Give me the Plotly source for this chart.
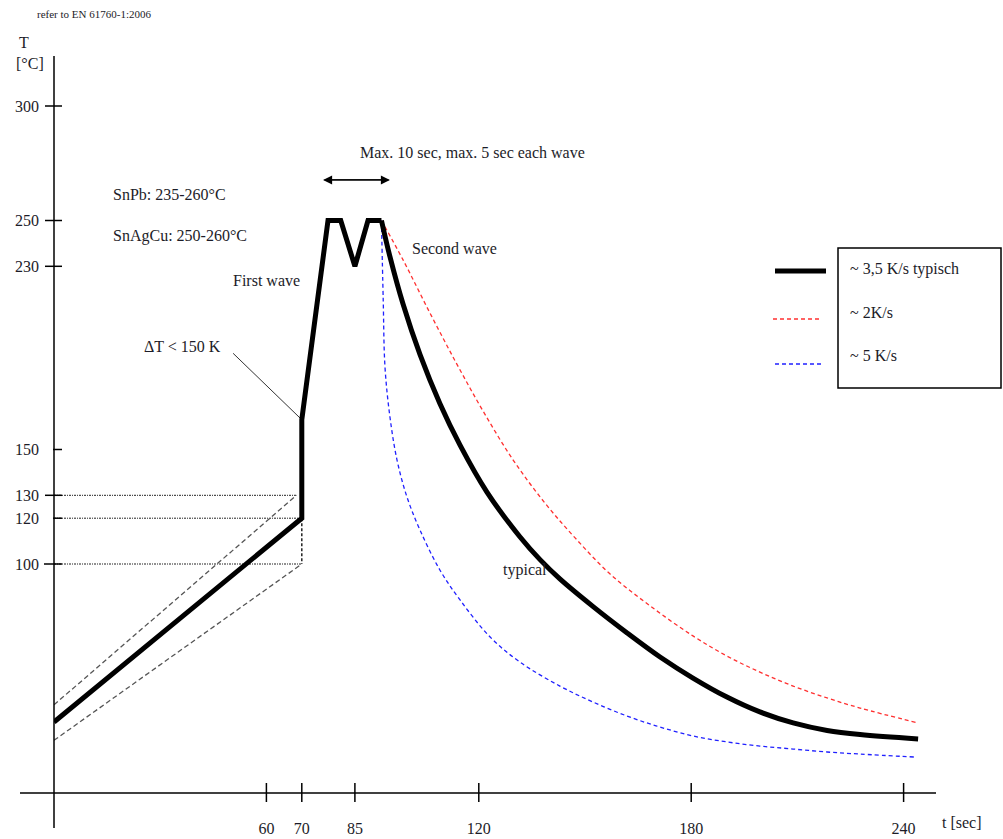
import plotly.graph_objects as go

# ---------------- data ----------------
x_tick_vals = [60, 70, 85, 120, 180, 240]
y_tick_vals = [100, 120, 130, 150, 230, 250, 300]

# typical profile (~3.5 K/s): preheat + double wave
rise_t = [0, 70, 70, 73.7, 77.4, 81, 85, 88.7, 92.5]
rise_T = [31, 120, 163, 207, 250, 250, 230, 250, 250]
# typical cooling
main_t = [92.5, 94.9, 98.6, 103.4, 109.0, 114.7, 122.3, 131.6, 137.3, 142.9, 152.3,
          161.9, 171.2, 180.5, 190.1, 199.4, 208.8, 218.4, 227.7, 244.1]
main_T = [250, 234.2, 213.5, 191.4, 170.1, 151.9, 131.4, 111.9, 101.9, 93.5, 81.4,
          69.9, 59.4, 50.2, 41.9, 35.4, 30.6, 27.3, 25.5, 23.6]

# ~2 K/s cooling
slow_t = [92.5, 98.6, 106.2, 113.8, 121.2, 129.7, 138.7, 147.2, 157.1, 168.4,
          180.5, 190.1, 199.4, 208.8, 218.4, 227.7, 244.1]
slow_T = [250, 232.8, 209.6, 187.3, 166.8, 145.4, 126.6, 111.4, 95.6, 81.7,
          68.6, 59.8, 52.8, 46.7, 41.5, 37.1, 30.6]

# ~5 K/s cooling
fast_t = [92.5, 93, 93.5, 94.9, 96.9, 99.7, 103.4, 109.0, 114.7, 123.2, 131.6,
          142.9, 152.3, 161.9, 171.2, 180.5, 190.1, 199.4, 208.8, 218.4, 227.7, 243.2]
fast_T = [250, 215.3, 186.0, 164.2, 145.4, 129.3, 114.8, 97.4, 84.3, 68.1, 57.2,
          46.7, 39.7, 33.6, 28.8, 24.9, 22.3, 20.5, 19.2, 17.9, 17.0, 15.7]

# preheat tolerance band
band_hi_t = [0, 68.5]
band_hi_T = [38.5, 130]
band_lo_t = [0, 70]
band_lo_T = [23, 100]

# reference levels at end of preheat
ref130_t, ref130_T = [0, 68.5], [130, 130]
ref120_t, ref120_T = [0, 70], [120, 120]
ref100_t, ref100_T = [0, 70], [100, 100]
refv_t, refv_T = [70, 70], [120, 100]

# delta-T pointer
dt_t, dt_T = [50.6, 70], [192, 163]

# ---------------- layout geometry ----------------
W_FIG, H_FIG = 1003, 839
L, R, T_, B = 54, 67, 56, 46
PW = W_FIG - L - R
PH = H_FIG - T_ - B
X_PX = 3.54   # px per second
Y_PX = 2.29   # px per degC


def px(x):
    return (x - L) / PW


def py(y):
    return (H_FIG - B - y) / PH


FONT = "Liberation Serif"
TXT = "#1c1c28"

fig = go.Figure()


def line(x, y, color, width, dash="solid", shape="linear"):
    fig.add_trace(go.Scatter(x=x, y=y, mode="lines",
                             line=dict(color=color, width=width, dash=dash, shape=shape,
                                       smoothing=1),
                             showlegend=False, hoverinfo="skip"))


dot = "2px,1px,1px,1px"
line(ref130_t, ref130_T, "#222", 1, dot)
line(ref120_t, ref120_T, "#222", 1, dot)
line(ref100_t, ref100_T, "#222", 1, dot)
line(refv_t, refv_T, "#222", 1.5, "3px,2px")
line(band_hi_t, band_hi_T, "#555", 1.3, "5px,3px")
line(band_lo_t, band_lo_T, "#555", 1.3, "5px,3px")
line(dt_t, dt_T, "#333", 1)
line(slow_t, slow_T, "#ff3030", 1.3, "4px,3px", "spline")
line(fast_t, fast_T, "#2020ff", 1.3, "4px,3px", "spline")
line(rise_t, rise_T, "black", 5)
line(main_t, main_T, "black", 5, shape="spline")

shapes = []
# axes lines (extend past origin)
shapes.append(dict(type="line", xref="paper", yref="paper", x0=px(20), x1=px(936),
                   y0=0, y1=0, line=dict(color="black", width=1.5)))
shapes.append(dict(type="line", xref="paper", yref="paper", x0=0, x1=0,
                   y0=py(828), y1=py(56), line=dict(color="black", width=1.5)))
# crossing x ticks
for v in x_tick_vals:
    shapes.append(dict(type="line", xref="x", yref="paper", ysizemode="pixel",
                       yanchor=0, x0=v, x1=v, y0=-9, y1=10,
                       line=dict(color="black", width=1.5)))
# crossing y ticks
left_len = {100: 10, 120: 1, 130: 9, 150: 1, 230: 9, 250: 9, 300: 9}
for v in y_tick_vals:
    shapes.append(dict(type="line", xref="paper", yref="y", xsizemode="pixel",
                       xanchor=0, y0=v, y1=v, x0=-left_len[v], x1=8,
                       line=dict(color="black", width=1.5)))
# legend box and samples
shapes.append(dict(type="rect", xref="paper", yref="paper", x0=px(838), x1=px(1001),
                   y0=py(388), y1=py(248), line=dict(color="black", width=1.5)))
shapes.append(dict(type="line", xref="paper", yref="paper", x0=px(775), x1=px(826),
                   y0=py(271), y1=py(271), line=dict(color="black", width=5)))
shapes.append(dict(type="line", xref="paper", yref="paper", x0=px(773), x1=px(822),
                   y0=py(319), y1=py(319), line=dict(color="#ff3030", width=1.3, dash="4px,3px")))
shapes.append(dict(type="line", xref="paper", yref="paper", x0=px(775), x1=px(823),
                   y0=py(364), y1=py(364), line=dict(color="#2020ff", width=1.3, dash="4px,3px")))

annotations = []


def text(s, x, y, size=16, anchor="left"):
    annotations.append(dict(text=s, xref="paper", yref="paper", x=px(x), y=py(y),
                            xanchor=anchor, yanchor="middle", showarrow=False,
                            font=dict(family=FONT, size=size, color=TXT)))


text("refer to EN 61760-1:2006", 35, 14, 11)
text("T", 17, 42, 16)
text("[°C]", 14, 64, 16)
text("t [sec]", 940, 822, 16)
text("Max. 10 sec, max. 5 sec each wave", 358, 153)
text("SnPb: 235-260°C", 111, 194)
text("SnAgCu: 250-260°C", 111, 236)
text("First wave", 231, 280)
text("Second wave", 410, 248)
text("ΔT < 150 K", 142, 346)
text("typical", 501, 570)
text("~ 3,5 K/s typisch", 848, 269)
text("~ 2K/s", 848, 312)
text("~ 5 K/s", 848, 355)

# double arrow (two overlapping single-headed arrows)
arrow_y = 267.7
arrow_l, arrow_r = 76.0, 94.9
for end, tail in ((arrow_l, arrow_r), (arrow_r, arrow_l)):
    annotations.append(dict(x=end, y=arrow_y, ax=tail, ay=arrow_y, xref="x", yref="y",
                            axref="x", ayref="y", text="", showarrow=True,
                            arrowhead=2, arrowsize=1.4, arrowwidth=1.3,
                            arrowcolor="black"))

fig.update_layout(
    width=W_FIG, height=H_FIG, autosize=False,
    margin=dict(l=L, r=R, t=T_, b=B, pad=0, autoexpand=False),
    paper_bgcolor="white", plot_bgcolor="white",
    shapes=shapes, annotations=annotations,
    hovermode=False,
    xaxis=dict(range=[0, PW / X_PX], showgrid=False, zeroline=False, showline=False,
               tickmode="array", tickvals=x_tick_vals,
               ticktext=[str(v) for v in x_tick_vals], ticks="",
               ticklabelstandoff=24, automargin=False,
               tickfont=dict(family=FONT, size=16, color=TXT)),
    yaxis=dict(range=[0, PH / Y_PX], showgrid=False, zeroline=False, showline=False,
               tickmode="array", tickvals=y_tick_vals,
               ticktext=[str(v) for v in y_tick_vals], ticks="",
               ticklabelstandoff=14, automargin=False,
               tickfont=dict(family=FONT, size=16, color=TXT)),
)

fig.write_html("out.html", config={"responsive": False, "displayModeBar": False},
               post_script="document.body.style.margin='0';document.body.style.overflow='hidden';")
